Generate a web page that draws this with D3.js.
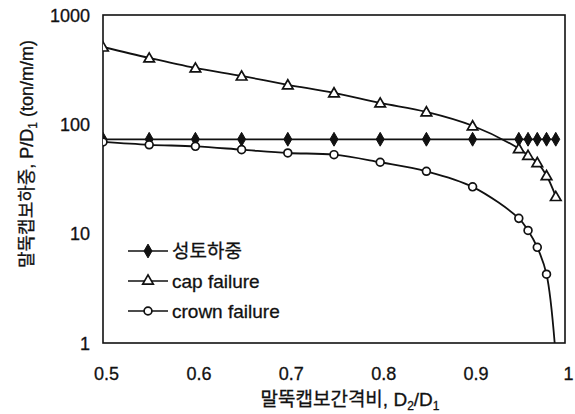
<!DOCTYPE html>
<html><head><meta charset="utf-8">
<script src="https://cdn.jsdelivr.net/npm/d3@7"></script>
<style>
body{margin:0;background:#fff;}
text{font-family:"Liberation Sans",Arial,"Noto Sans CJK KR",sans-serif;fill:#111;}
</style></head><body>
<svg id="c" width="575" height="414"></svg>
<script>
const ratios = [0.5,0.55,0.6,0.65,0.7,0.75,0.8,0.85,0.9,0.95,0.96,0.97,0.98,0.99];
const fillLoad = [73,73,73,73,73,73,73,73,73,73,73,73,73,73];
const capFailure = [510,405,328,277,230,194,157,130,97,60,52,44.7,34,21.9];
const crownFailure = [69,65,62.9,58.7,54.7,52.8,45,37.2,26.8,13.8,10.7,7.5,4.26,0.75];
const seriesNames = ["성토하중","cap failure","crown failure"];
const xTicks = [0.5,0.6,0.7,0.8,0.9,1];
const xTickLabels = ["0.5","0.6","0.7","0.8","0.9","1"];
const yTicks = [1,10,100,1000];
const yTickLabels = ["1","10","100","1000"];

const svg = d3.select("#c");
const L=103, R=565, T=15, B=343;
const x = d3.scaleLinear().domain([0.5,1]).range([L,R]);
const y = d3.scaleLog().domain([1,1000]).range([B,T]);

svg.append("defs").append("clipPath").attr("id","pc")
  .append("rect").attr("x",L).attr("y",T-10).attr("width",R-L).attr("height",B-T+10);

svg.append("rect").attr("x",L).attr("y",T).attr("width",R-L).attr("height",B-T)
  .attr("fill","none").attr("stroke","#111").attr("stroke-width",1.6);

const xa = svg.append("g").attr("transform",`translate(3,${B})`)
  .call(d3.axisBottom(x).tickValues(xTicks).tickFormat((d,i)=>xTickLabels[i]).tickSize(0).tickPadding(24));
xa.select(".domain").remove();
xa.selectAll("text").attr("font-size",18).attr("font-family",null).attr("stroke","#111").attr("stroke-width",0.3);
const ya = svg.append("g").attr("transform",`translate(${L-13},0)`)
  .call(d3.axisLeft(y).tickValues(yTicks).tickFormat((d,i)=>yTickLabels[i]).tickSize(0).tickPadding(0));
ya.select(".domain").remove();
ya.selectAll("text").attr("font-size",18).attr("font-family",null).attr("dy","0.35em").attr("stroke","#111").attr("stroke-width",0.3);

const data = [fillLoad, capFailure, crownFailure].map(vals => ratios.map((r,i)=>({x:r,y:vals[i]})));
const line = d3.line().x(d=>x(d.x)).y(d=>y(d.y)).curve(d3.curveCatmullRom.alpha(0.5));
const g = svg.append("g").attr("clip-path","url(#pc)");
data.forEach(d=>{
  g.append("path").datum(d).attr("d",line).attr("fill","none").attr("stroke","#111").attr("stroke-width",1.8);
});
const sym = [d3.symbolDiamond, d3.symbolTriangle, d3.symbolCircle];
const sz = [55,48,48];
function marker(sel, k){
  sel.attr("d", d3.symbol().type(sym[k]).size(sz[k])())
    .attr("fill", k===0?"#111":"#fff").attr("stroke","#111").attr("stroke-width",k===0?1:1.7);
}
data.forEach((d,k)=>{
  g.selectAll(null).data(d.filter(p=>p.y>=1)).enter().append("path")
    .attr("transform",p=>`translate(${x(p.x)},${y(p.y)+(k===1?1:0)})`)
    .call(marker,k);
});

const leg = svg.append("g");
seriesNames.forEach((n,k)=>{
  const yy = 251 + k*30;
  leg.append("line").attr("x1",128).attr("x2",168).attr("y1",yy).attr("y2",yy).attr("stroke","#111").attr("stroke-width",1.4);
  leg.append("path").attr("transform",`translate(148,${yy})`).call(marker,k);
  leg.append("text").attr("x",172).attr("y",yy).attr("dy","0.35em").attr("font-size",19)
    .attr("stroke","#111").attr("stroke-width",0.3).text(n);
});

const xt = svg.append("text").attr("x",350).attr("y",406).attr("text-anchor","middle").attr("font-size",19)
  .attr("stroke","#111").attr("stroke-width",0.3);
xt.append("tspan").text("말뚝캡보간격비, D");
xt.append("tspan").attr("font-size",12).attr("dy",4).text("2");
xt.append("tspan").attr("dy",-4).text("/D");
xt.append("tspan").attr("font-size",12).attr("dy",4).text("1");

const yt = svg.append("text").attr("transform","translate(33,154) rotate(-90)").attr("text-anchor","middle").attr("font-size",18)
  .attr("stroke","#111").attr("stroke-width",0.3);
yt.append("tspan").text("말뚝캡보하중, P/D");
yt.append("tspan").attr("font-size",12).attr("dy",4).text("1");
yt.append("tspan").attr("dy",-4).text(" (ton/m/m)");
</script></body></html>
